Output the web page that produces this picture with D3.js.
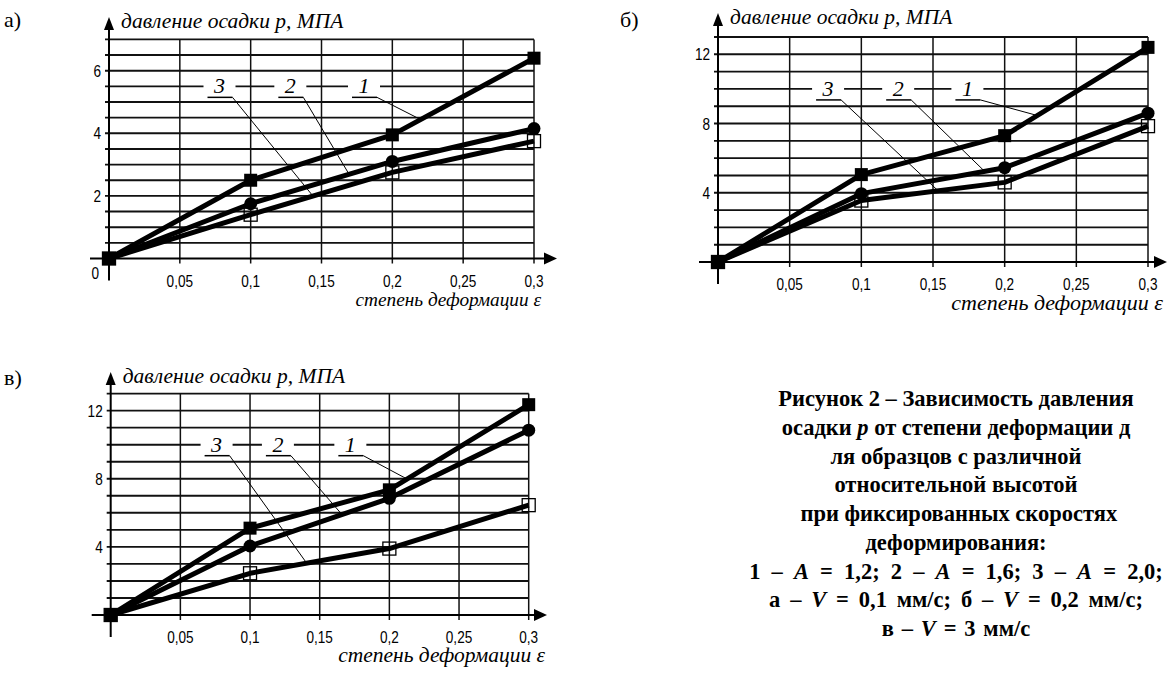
<!DOCTYPE html>
<html>
<head>
<meta charset="utf-8">
<script src="https://cdn.jsdelivr.net/npm/d3@7"></script>
<style>
  body { margin: 0; background: #fff; }
  svg { display: block; }
</style>
</head>
<body>
<script>
// data
var eps = [0, 0.1, 0.2, 0.3];

var seriesA1 = [0, 2.5, 3.95, 6.4];
var seriesA2 = [0, 1.75, 3.1, 4.15];
var seriesA3 = [0, 1.4, 2.75, 3.75];

var seriesB1 = [0, 5.05, 7.3, 12.4];
var seriesB2 = [0, 3.95, 5.45, 8.6];
var seriesB3 = [0, 3.55, 4.6, 7.85];

var seriesV1 = [0, 5.1, 7.35, 12.35];
var seriesV2 = [0, 4.05, 6.85, 10.85];
var seriesV3 = [0, 2.45, 3.9, 6.45];

var xTicks = [0.05, 0.1, 0.15, 0.2, 0.25, 0.3];
var yTicksA = [2, 4, 6];
var yTicksBV = [4, 8, 12];
var seriesNames = ["1", "2", "3"];

var yTitle = "давление осадки p, МПА";
var xTitle = "степень деформации ε";

// constants
var LINE_WIDTH = 5;
var SERIF = "Liberation Serif";
var SANS = "Liberation Sans";

var svg = d3.select("body").append("svg")
	.attr("width", 1171)
	.attr("height", 693);

var fmt = function(v) { return String(+v.toFixed(2)).replace(".", ","); };

var interp = function(series, e) {
	for (var i = 1; i < eps.length; i++) {
		if (e <= eps[i]) {
			var t = (e - eps[i-1]) / (eps[i] - eps[i-1]);
			return series[i-1] + t * (series[i] - series[i-1]);
		}
	}
	return series[series.length-1];
};

var drawPanel = function(p) {
	var g = svg.append("g");
	var x = d3.scaleLinear().domain([0, 0.3]).range([p.left, p.right]);
	var y = d3.scaleLinear().domain([0, p.yMax]).range([p.bottom, p.top]);

	// horizontal grid
	g.selectAll(".hg").data(d3.range(p.yStep, p.yMax + 1e-6, p.yStep)).enter()
		.append("line")
		.attr("x1", x(0) - 4).attr("x2", x(0.3))
		.attr("y1", function(d) { return y(d); })
		.attr("y2", function(d) { return y(d); })
		.attr("stroke", "#111").attr("stroke-width", 1.9);
	// vertical grid
	g.selectAll(".vg").data(xTicks).enter()
		.append("line")
		.attr("x1", function(d) { return x(d); })
		.attr("x2", function(d) { return x(d); })
		.attr("y1", y(0) + 5).attr("y2", y(p.yMax))
		.attr("stroke", "#111").attr("stroke-width", 1.5);

	// axes
	g.append("line")
		.attr("x1", x(0)).attr("x2", x(0))
		.attr("y1", y(0) + 22).attr("y2", p.arrowTop + 12)
		.attr("stroke", "#000").attr("stroke-width", 2);
	g.append("path")
		.attr("d", "M" + (x(0) - 5) + "," + (p.arrowTop + 13) + " L" + x(0) + "," + p.arrowTop +
			" L" + (x(0) + 5) + "," + (p.arrowTop + 13) + " Z")
		.attr("fill", "#000");
	g.append("line")
		.attr("x1", x(0) - 19).attr("x2", p.arrowRight - 12)
		.attr("y1", y(0)).attr("y2", y(0))
		.attr("stroke", "#000").attr("stroke-width", 2);
	g.append("path")
		.attr("d", "M" + (p.arrowRight - 13) + "," + (y(0) - 6) + " L" + p.arrowRight + "," + y(0) +
			" L" + (p.arrowRight - 13) + "," + (y(0) + 6) + " Z")
		.attr("fill", "#000");

	// tick labels (tall, narrow digits)
	g.selectAll(".xl").data(xTicks).enter()
		.append("text")
		.attr("transform", function(d) { return "translate(" + x(d) + "," + (y(0) + 28) + ") scale(0.8,1)"; })
		.attr("text-anchor", "middle")
		.attr("font-family", SANS).attr("font-size", 17)
		.text(fmt);
	g.selectAll(".yl").data(p.yTicks).enter()
		.append("text")
		.attr("transform", function(d) { return "translate(" + (x(0) - 8) + "," + (y(d) + 6) + ") scale(0.8,1)"; })
		.attr("text-anchor", "end")
		.attr("font-family", SANS).attr("font-size", 17)
		.text(function(d) { return d; });
	if (p.zero) {
		g.append("text")
			.attr("transform", "translate(" + (x(0) - 10) + "," + (y(0) + 20) + ") scale(0.8,1)")
			.attr("text-anchor", "end")
			.attr("font-family", SANS).attr("font-size", 17)
			.text("0");
	}

	// titles
	g.append("text")
		.attr("x", x(0) + 12).attr("y", p.arrowTop + 11)
		.attr("font-family", SERIF).attr("font-style", "italic").attr("font-size", 21.5)
		.text(yTitle);
	g.append("text")
		.attr("x", p.xTitleRight).attr("y", y(0) + p.xTitleDy)
		.attr("text-anchor", "end")
		.attr("font-family", SERIF).attr("font-style", "italic").attr("font-size", p.xTitleSize)
		.text(xTitle);

	// series lines
	var line = d3.line()
		.x(function(d, i) { return x(eps[i]); })
		.y(function(d) { return y(d); });
	[2, 1, 0].forEach(function(k) {
		g.append("path")
			.datum(p.series[k])
			.attr("d", line)
			.attr("fill", "none")
			.attr("stroke", "#000")
			.attr("stroke-width", LINE_WIDTH)
			.attr("stroke-linejoin", "round");
	});

	// markers
	g.selectAll(".m3").data(p.series[2]).enter()
		.append("rect")
		.attr("x", function(d, i) { return x(eps[i]) - 6.5; })
		.attr("y", function(d) { return y(d) - 6.5; })
		.attr("width", 13).attr("height", 13)
		.attr("fill", "none").attr("stroke", "#000").attr("stroke-width", 1.3);
	g.selectAll(".m2").data(p.series[1]).enter()
		.append("circle")
		.attr("cx", function(d, i) { return x(eps[i]); })
		.attr("cy", function(d) { return y(d); })
		.attr("r", 6.5)
		.attr("fill", "#000");
	g.selectAll(".m1").data(p.series[0]).enter()
		.append("rect")
		.attr("x", function(d, i) { return x(eps[i]) - 6.5; })
		.attr("y", function(d) { return y(d) - 6.5; })
		.attr("width", 13).attr("height", 13)
		.attr("fill", "#000");

	// series labels with leader lines
	seriesNames.forEach(function(name, k) {
		var lx = x(p.labelEps[k]);
		var ly = y(p.labelValue);
		g.append("rect")
			.attr("x", lx - 16).attr("y", ly - 4)
			.attr("width", 32).attr("height", 8)
			.attr("fill", "#fff");
		g.append("text")
			.attr("x", lx).attr("y", ly + 7)
			.attr("text-anchor", "middle")
			.attr("font-family", SERIF).attr("font-style", "italic").attr("font-size", 22)
			.text(name);
		g.append("line")
			.attr("x1", lx - 12).attr("x2", lx + 13)
			.attr("y1", ly + 11).attr("y2", ly + 11)
			.attr("stroke", "#000").attr("stroke-width", 1.5);
		var te = p.targetEps[k];
		g.append("line")
			.attr("x1", lx + 13).attr("y1", ly + 11)
			.attr("x2", x(te)).attr("y2", y(interp(p.series[k], te)))
			.attr("stroke", "#000").attr("stroke-width", 1);
	});

	// panel letter
	svg.append("text")
		.attr("x", p.letterX).attr("y", p.letterY)
		.attr("font-family", SERIF).attr("font-size", 22)
		.text(p.letter);
};

drawPanel({
	letter: "а)", letterX: 4, letterY: 27,
	left: 109, right: 534, bottom: 258.5, top: 39.4,
	yMax: 7, yStep: 0.5, yTicks: yTicksA, zero: true,
	arrowTop: 17, arrowRight: 557,
	xTitleRight: 541, xTitleSize: 19.3, xTitleDy: 47,
	series: [seriesA1, seriesA2, seriesA3],
	labelValue: 5.5, labelEps: [0.18, 0.128, 0.078], targetEps: [0.22, 0.1695, 0.144]
});
drawPanel({
	letter: "б)", letterX: 620, letterY: 27,
	left: 718, right: 1148, bottom: 262, top: 37,
	yMax: 13, yStep: 1, yTicks: yTicksBV, zero: false,
	arrowTop: 13, arrowRight: 1167,
	xTitleRight: 1163, xTitleSize: 22, xTitleDy: 48,
	series: [seriesB1, seriesB2, seriesB3],
	labelValue: 10, labelEps: [0.174, 0.1257, 0.0768], targetEps: [0.2228, 0.186, 0.1536]
});
drawPanel({
	letter: "в)", letterX: 4, letterY: 385,
	left: 110.7, right: 528.7, bottom: 615, top: 393.6,
	yMax: 13, yStep: 1, yTicks: yTicksBV, zero: false,
	arrowTop: 372, arrowRight: 547,
	xTitleRight: 545, xTitleSize: 21.5, xTitleDy: 47,
	series: [seriesV1, seriesV2, seriesV3],
	labelValue: 10, labelEps: [0.172, 0.12, 0.076], targetEps: [0.2127, 0.166, 0.1407]
});

// caption: [text, italic] parts per line, plus the extra word spacing of the line
var caption = [
	[[["Рисунок 2 – Зависимость давления", false]], 0],
	[[["осадки ", false], ["p", true], [" от степени деформации д", false]], 0],
	[[["ля образцов с различной", false]], 0],
	[[["относительной высотой", false]], 0],
	[[[" при фиксированных скоростях", false]], 0],
	[[["деформирования:", false]], 0],
	[[["1 – ", false], ["A", true], [" = 1,2; 2 – ", false], ["A", true], [" = 1,6; 3 – ", false], ["A", true], [" = 2,0;", false]], 5.5],
	[[["а – ", false], ["V", true], [" = 0,1 мм/с; б – ", false], ["V", true], [" = 0,2 мм/с;", false]], 4.2],
	[[["в – ", false], ["V", true], [" = 3 мм/с", false]], 2.2]
];
var cap = svg.append("g");
caption.forEach(function(row, i) {
	var t = cap.append("text")
		.attr("x", 956).attr("y", 406 + i * 28.75)
		.attr("text-anchor", "middle")
		.attr("font-family", SERIF).attr("font-weight", "bold").attr("font-size", 22.5)
		.attr("word-spacing", row[1])
		.style("white-space", "pre");
	row[0].forEach(function(pt) {
		t.append("tspan")
			.attr("font-style", pt[1] ? "italic" : "normal")
			.text(pt[0]);
	});
});
</script>
</body>
</html>
